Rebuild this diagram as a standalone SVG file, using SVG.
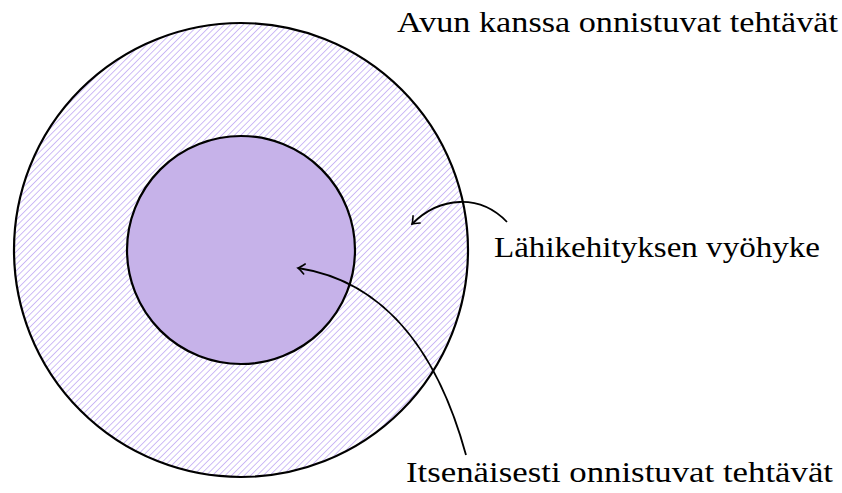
<svg xmlns="http://www.w3.org/2000/svg" width="842" height="493" viewBox="0 0 842 493">
  <defs>
    <pattern id="hatch" patternUnits="userSpaceOnUse" width="4.5" height="10" patternTransform="rotate(45)">
      <rect x="0" y="0" width="0.8" height="10" fill="#c2acf4"/>
    </pattern>
    <marker id="arr" viewBox="-8 -6 10 12" markerWidth="10" markerHeight="12" refX="0" refY="0" orient="auto" markerUnits="userSpaceOnUse">
      <path d="M-6.5,-5 Q-2,-1 0,0 Q-2,1 -6.5,5" fill="none" stroke="#000" stroke-width="1.6" stroke-linecap="round"/>
    </marker>
  </defs>
  <style>
    .lbl { font-family: "Liberation Serif", "DejaVu Serif", serif; font-size: 30px; fill: #000; }
    .ring { stroke: #000; stroke-width: 2.2; }
    .conn { fill: none; stroke: #000; stroke-width: 1.8; marker-end: url(#arr); }
  </style>
  <g id="outer">
    <circle cx="241" cy="250" r="227" fill="#fff"/>
    <circle cx="241" cy="250" r="227" fill="url(#hatch)"/>
    <circle class="ring" cx="241" cy="250" r="227" fill="none"/>
  </g>
  <g id="inner">
    <circle class="ring" cx="241" cy="250" r="114" fill="#c6b2e9"/>
  </g>
  <g id="connectors">
    <path class="conn" d="M507,222 C480,194 440,196 412,224"/>
    <path class="conn" d="M466,455 C440,360 390,282 298,268"/>
  </g>
  <g id="label-outer">
    <text class="lbl" x="397" y="32" textLength="441" lengthAdjust="spacingAndGlyphs">Avun kanssa onnistuvat tehtävät</text>
  </g>
  <g id="label-zone">
    <text class="lbl" x="494" y="257" textLength="326" lengthAdjust="spacingAndGlyphs">Lähikehityksen vyöhyke</text>
  </g>
  <g id="label-inner">
    <text class="lbl" x="406" y="482" textLength="427" lengthAdjust="spacingAndGlyphs">Itsenäisesti onnistuvat tehtävät</text>
  </g>
</svg>
